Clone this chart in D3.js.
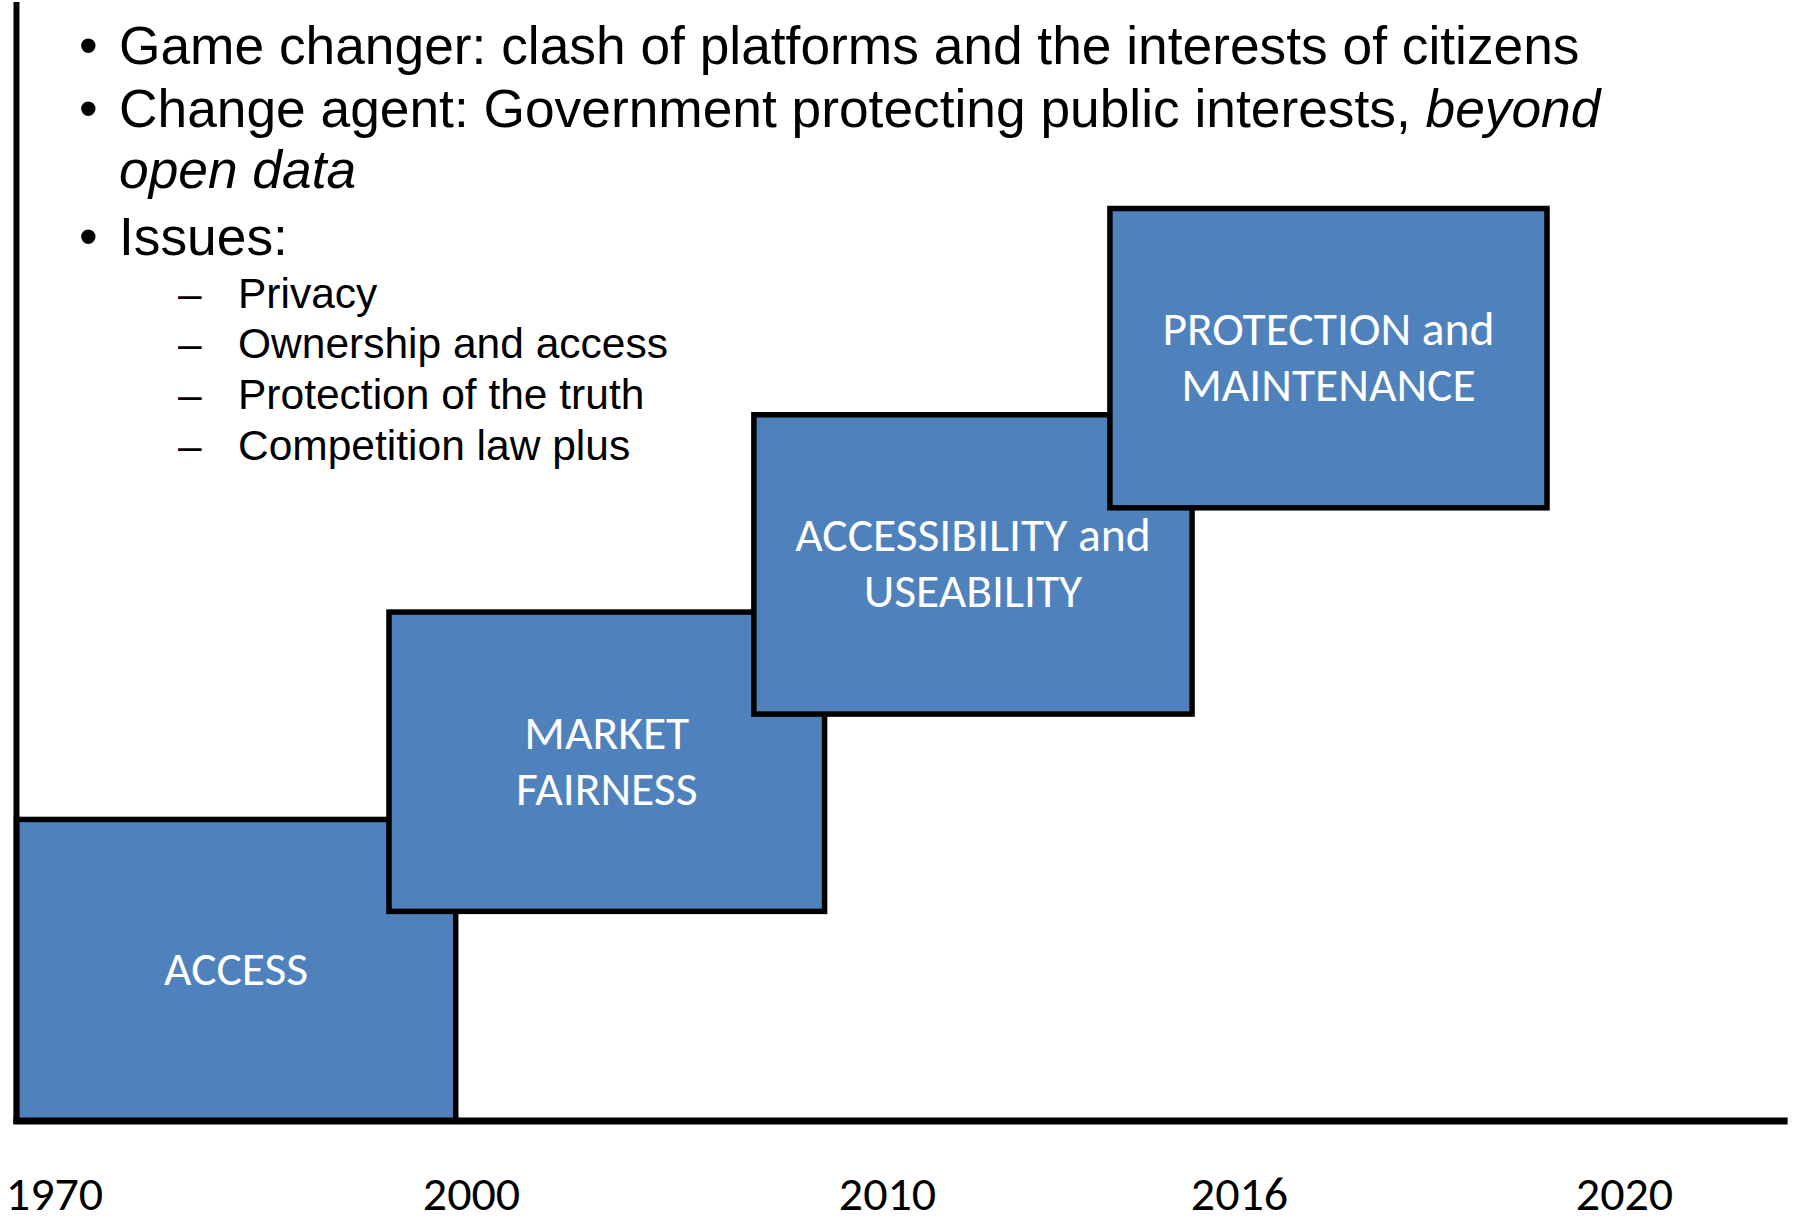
<!DOCTYPE html>
<html><head><meta charset="utf-8">
<script src="https://cdn.jsdelivr.net/npm/d3@7"></script>
<style>
html,body{margin:0;padding:0;background:#fff;}
svg{display:block;}
</style></head><body>
<script>
// ---- data ----
const yearTicks = [1970, 2000, 2010, 2016, 2020];
const yearLabels = ["1970", "2000", "2010", "2016", "2020"];
const stageNames = [["ACCESS"], ["MARKET", "FAIRNESS"], ["ACCESSIBILITY and", "USEABILITY"], ["PROTECTION and", "MAINTENANCE"]];
const stageStart = [1967.3, 1994.1, 2006.8, 2013.8];
const stageEnd = [1998.9, 2008.5, 2015.2, 2019.2];
const stageBase = [0, 18.7, 36.3, 54.7];
const stageTop = [26.9, 45.4, 63.0, 81.4];
const axisExtent = [1967.3, 2021.7];
const bulletLines = [
  {bullet: true, segs: [["Game changer: clash of platforms and the interests of citizens", false]]},
  {bullet: true, segs: [["Change agent: Government protecting public interests, ", false], ["beyond", true]]},
  {bullet: false, segs: [["open data", true]]},
  {bullet: true, segs: [["Issues:", false]]}
];
const issues = ["Privacy", "Ownership and access", "Protection of the truth", "Competition law plus"];

// ---- layout ----
const W = 1797, H = 1224;
const svg = d3.select("body").append("svg").attr("width", W).attr("height", H);
const x = d3.scaleLinear().domain(yearTicks).range([54, 471, 887, 1239, 1624]);
const y = d3.scaleLinear().domain([0, 100]).range([1121, 0]);
const ARIAL = "'Liberation Sans', Arial, sans-serif";
const CALIBRI = "Carlito, Calibri, Lato, sans-serif";

// boxes
const stages = stageNames.map((n, i) => ({name: n, s: stageStart[i], e: stageEnd[i], b: stageBase[i], t: stageTop[i]}));
const g = svg.append("g");
g.selectAll("rect").data(stages).join("rect")
  .attr("x", d => x(d.s)).attr("y", d => y(d.t))
  .attr("width", d => x(d.e) - x(d.s)).attr("height", d => y(d.b) - y(d.t))
  .attr("fill", "#4F81BD").attr("stroke", "#000").attr("stroke-width", 5.5);

stages.forEach(d => {
  const cx = (x(d.s) + x(d.e)) / 2, cy = (y(d.t) + y(d.b)) / 2;
  const n = d.name.length;
  d.name.forEach((line, k) => {
    g.append("text").attr("x", cx).attr("y", cy + 15 + (k - (n - 1) / 2) * 56)
      .attr("text-anchor", "middle").attr("fill", "#fff")
      .style("font-family", CALIBRI).style("font-size", "47.5px").text(line);
  });
});

// axes
svg.append("line").attr("x1", x(axisExtent[0])).attr("x2", x(axisExtent[0]) )
  .attr("y1", 2).attr("y2", y(0) + 3).attr("stroke", "#000").attr("stroke-width", 6);
svg.append("line").attr("x1", x(axisExtent[0]) - 3).attr("x2", x(axisExtent[1]))
  .attr("y1", y(0)).attr("y2", y(0)).attr("stroke", "#000").attr("stroke-width", 7);

const ax = svg.append("g").attr("transform", `translate(0,${y(0)})`)
  .call(d3.axisBottom(x).tickValues(yearTicks).tickFormat((d, i) => yearLabels[i]).tickSize(0));
ax.select(".domain").remove();
ax.selectAll("text").attr("dy", null).attr("y", 89)
  .style("font-family", CALIBRI).style("font-size", "48px").attr("fill", "#000");

// bullet text
const bl = [64, 127, 188, 255];
bulletLines.forEach((ln, i) => {
  if (ln.bullet) svg.append("text").attr("x", 79).attr("y", bl[i])
    .style("font-family", ARIAL).style("font-size", "53.3px").text("\u2022");
  const t = svg.append("text").attr("x", 119).attr("y", bl[i])
    .style("font-family", ARIAL).style("font-size", "53.3px").attr("fill", "#000");
  ln.segs.forEach(s => t.append("tspan").style("font-style", s[1] ? "italic" : "normal").text(s[0]));
});
const il = [308, 358, 409, 460];
issues.forEach((s, i) => {
  svg.append("text").attr("x", 178).attr("y", il[i])
    .style("font-family", ARIAL).style("font-size", "42.5px").text("\u2013");
  svg.append("text").attr("x", 238).attr("y", il[i])
    .style("font-family", ARIAL).style("font-size", "42.5px").text(s);
});
</script>
</body></html>
